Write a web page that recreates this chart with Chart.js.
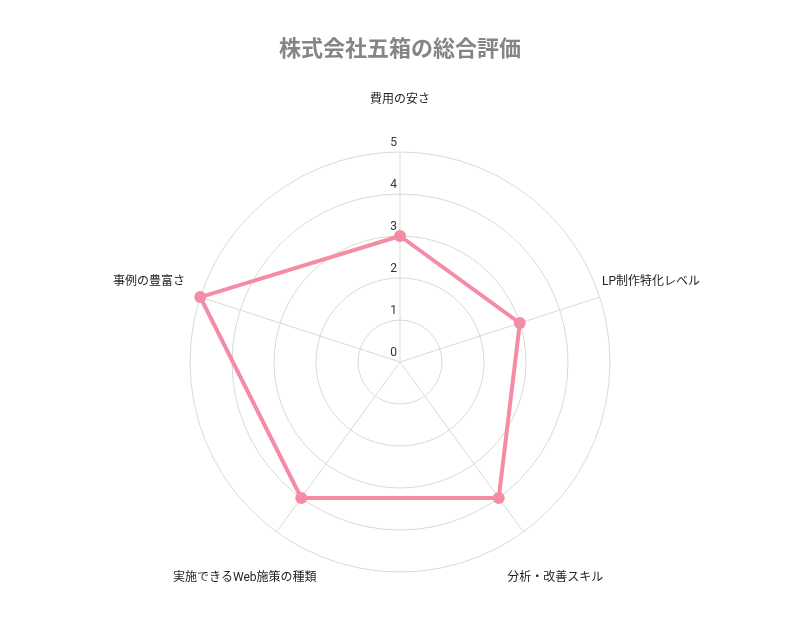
<!DOCTYPE html>
<html>
<head>
<meta charset="utf-8">
<script src="https://cdn.jsdelivr.net/npm/chart.js"></script>
<style>
  html, body { margin: 0; padding: 0; background: #ffffff; }
  #wrap { width: 800px; height: 642px; }
</style>
</head>
<body>
<div id="wrap"><canvas id="hyouka"></canvas></div>
<script>
const labels = ['費用の安さ', 'LP制作特化レベル', '分析・改善スキル', '実施できるWeb施策の種類', '事例の豊富さ'];
const scores = [3, 3, 4, 4, 5];
const tickValues = [0, 1, 2, 3, 4, 5];

const pink = '#f48ca5';
const jpFont = "'Noto Sans CJK JP', 'Noto Sans', sans-serif";
const labelFont = "Roboto, 'Noto Sans CJK JP', sans-serif";

Chart.defaults.font.family = jpFont;

// labels drawn centred on each spoke, ticks drawn up-left of each ring
const radarText = {
  id: 'radarText',
  afterDatasetsDraw(chart) {
    const scale = chart.scales.r;
    const ctx = chart.ctx;
    ctx.save();
    ctx.textAlign = 'center';
    ctx.textBaseline = 'middle';

    ctx.font = "12px " + labelFont;
    ctx.fillStyle = '#1e1e1e';
    labels.forEach((label, i) => {
      const p = scale.getPointPosition(i, scale.drawingArea + 54);
      ctx.fillText(label, p.x, p.y + 2);
    });

    ctx.fillStyle = '#333333';
    tickValues.forEach(v => {
      const p = scale.getPointPositionForValue(0, v);
      ctx.fillText(String(v), p.x - 6.5, p.y - 9);
    });
    ctx.restore();
  }
};

new Chart(document.getElementById('hyouka'), {
  type: 'radar',
  data: {
    labels: labels,
    datasets: [{
      label: '総合評価',
      data: scores,
      borderColor: pink,
      backgroundColor: 'rgba(0,0,0,0)',
      fill: false,
      borderWidth: 4,
      pointRadius: 6,
      pointBackgroundColor: pink,
      pointBorderColor: pink,
      pointBorderWidth: 0
    }]
  },
  options: {
    responsive: true,
    maintainAspectRatio: false,
    animation: false,
    layout: {
      padding: { top: 0, bottom: 69 }
    },
    plugins: {
      legend: { display: false },
      tooltip: { enabled: false },
      title: {
        display: true,
        text: '株式会社五箱の総合評価',
        color: '#858585',
        font: { size: 22, weight: 'bold', family: jpFont },
        padding: { top: 34, bottom: 92 }
      }
    },
    scales: {
      r: {
        min: 0,
        max: 5,
        ticks: { display: false, stepSize: 1 },
        pointLabels: { display: false },
        grid: { circular: true, color: '#d9d9d9' },
        angleLines: { color: '#d9d9d9' }
      }
    }
  },
  plugins: [radarText]
});
</script>
</body>
</html>
